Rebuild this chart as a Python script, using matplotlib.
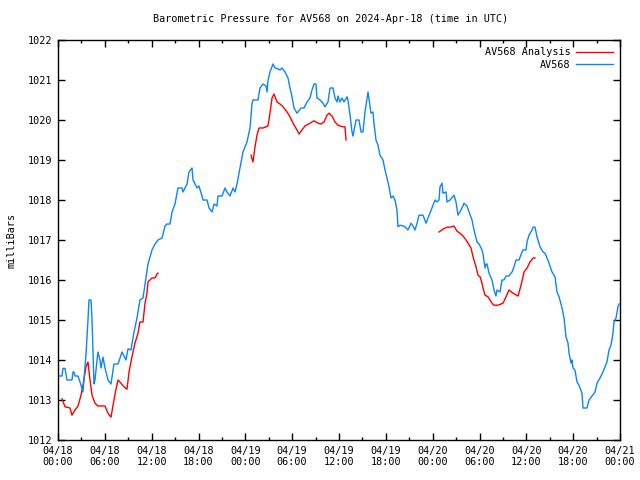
import numpy as np
import matplotlib
matplotlib.use("Agg")
import matplotlib.pyplot as plt
from matplotlib.ticker import MultipleLocator

# time in hours since 2024-04-18 00:00 UTC
av_hours = [0.0, 0.51, 0.64, 0.90, 1.15, 1.79, 1.92, 2.05, 2.18, 2.56, 2.82, 3.20, 3.59, 3.84, 3.97, 4.23,
            4.36, 4.48, 4.61, 4.74, 5.00, 5.12, 5.38, 5.51, 5.77, 6.02, 6.41, 6.79, 7.17, 7.69, 8.20, 8.71,
            8.97, 9.35, 9.74, 10.12, 10.50, 10.89, 11.27, 11.53, 12.04, 12.43, 12.81, 13.33, 13.71, 13.96,
            14.35, 14.61, 14.99, 15.37, 15.89, 16.01, 16.53, 16.78, 17.17, 17.30, 17.81, 18.06, 18.45, 18.58,
            19.09, 19.35, 19.73, 19.99, 20.37, 20.50, 21.01, 21.40, 21.65, 22.04, 22.42, 22.68, 22.93, 23.32,
            23.70, 24.21, 24.60, 24.85, 24.98, 25.62, 25.88, 26.26, 26.65, 26.78, 26.90, 27.16, 27.55, 27.80,
            28.18, 28.44, 28.70, 29.08, 29.47, 29.72, 29.98, 30.24, 30.62, 30.75, 31.13, 31.52, 31.90, 32.28,
            32.54, 32.80, 33.05, 33.18, 33.57, 33.95, 34.21, 34.59, 34.85, 35.23, 35.49, 35.75, 35.87, 36.13,
            36.38, 36.64, 37.03, 37.15, 37.41, 37.67, 37.79, 38.18, 38.56, 38.82, 39.07, 39.33, 39.72, 40.10,
            40.36, 40.48, 40.74, 41.00, 41.25, 41.64, 41.89, 42.15, 42.41, 42.66, 42.92, 43.17, 43.43, 43.56,
            43.82, 44.20, 44.46, 44.84, 45.23, 45.48, 45.74, 46.00, 46.25, 46.76, 47.15, 47.40, 47.91, 48.30,
            48.56, 48.81, 48.94, 49.20, 49.32, 49.71, 49.84, 50.22, 50.73, 50.99, 51.25, 51.76, 52.01, 52.40,
            52.66, 53.04, 53.30, 53.68, 53.94, 54.32, 54.45, 54.71, 54.84, 54.96, 55.22, 55.60, 55.86, 56.11,
            56.24, 56.63, 56.88, 57.14, 57.40, 57.78, 58.17, 58.42, 58.68, 59.06, 59.45, 59.58, 59.96, 60.09,
            60.34, 60.73, 60.86, 61.11, 61.37, 61.49, 61.75, 62.14, 62.39, 62.65, 62.91, 63.29, 63.67, 63.93,
            64.19, 64.57, 64.83, 65.08, 65.34, 65.47, 65.73, 65.85, 65.98, 66.23, 66.49, 66.75, 67.13, 67.26,
            67.77, 68.03, 68.41, 68.80, 69.05, 69.44, 69.82, 70.08, 70.33, 70.59, 70.85, 71.10, 71.23, 71.49,
            71.74, 71.87]
av_press = [1013.6, 1013.6, 1013.79, 1013.79, 1013.5, 1013.5, 1013.7, 1013.7, 1013.6, 1013.6, 1013.45, 1013.2,
            1014.15, 1015.0, 1015.5, 1015.5, 1015.0, 1014.2, 1013.4, 1013.5, 1014.0, 1014.2, 1014.0, 1013.8,
            1014.07, 1013.8, 1013.5, 1013.4, 1013.9, 1013.9, 1014.2, 1014.0, 1014.28, 1014.25, 1014.7, 1015.05,
            1015.5, 1015.55, 1016.05, 1016.4, 1016.75, 1016.9, 1017.0, 1017.05, 1017.35, 1017.4, 1017.4, 1017.7,
            1017.9, 1018.3, 1018.3, 1018.2, 1018.4, 1018.7, 1018.8, 1018.5, 1018.3, 1018.35, 1018.1, 1018.0,
            1018.0, 1017.8, 1017.7, 1017.9, 1017.85, 1018.1, 1018.1, 1018.3, 1018.2, 1018.1, 1018.3, 1018.2,
            1018.4, 1018.8, 1019.2, 1019.45, 1019.8, 1020.4, 1020.5, 1020.5, 1020.8, 1020.9, 1020.85, 1020.7,
            1020.98, 1021.2, 1021.4, 1021.3, 1021.28, 1021.25, 1021.3, 1021.2, 1021.05, 1020.8, 1020.58, 1020.3,
            1020.17, 1020.2, 1020.3, 1020.3, 1020.45, 1020.55, 1020.75, 1020.9, 1020.9, 1020.55, 1020.5, 1020.42,
            1020.33, 1020.45, 1020.8, 1020.8, 1020.55, 1020.45, 1020.6, 1020.45, 1020.55, 1020.45, 1020.58,
            1020.5, 1020.13, 1019.7, 1019.6, 1020.0, 1020.0, 1019.7, 1019.7, 1020.2, 1020.7, 1020.17, 1020.2,
            1019.92, 1019.5, 1019.37, 1019.12, 1019.0, 1018.75, 1018.55, 1018.33, 1018.05, 1018.1, 1018.0,
            1017.75, 1017.33, 1017.37, 1017.35, 1017.33, 1017.25, 1017.42, 1017.35, 1017.25, 1017.42, 1017.62,
            1017.62, 1017.42, 1017.55, 1017.8, 1018.0, 1017.95, 1018.0, 1018.33, 1018.42, 1018.17, 1018.2,
            1017.95, 1018.0, 1018.12, 1017.95, 1017.62, 1017.8, 1017.92, 1017.85, 1017.7, 1017.5, 1017.25,
            1016.95, 1016.9, 1016.75, 1016.65, 1016.3, 1016.4, 1016.4, 1016.17, 1016.0, 1015.75, 1015.6,
            1015.75, 1015.7, 1016.0, 1016.0, 1016.1, 1016.1, 1016.2, 1016.33, 1016.5, 1016.5, 1016.7, 1016.75,
            1016.75, 1016.95, 1017.12, 1017.25, 1017.32, 1017.32, 1017.08, 1017.0, 1016.83, 1016.7, 1016.67,
            1016.55, 1016.42, 1016.2, 1016.08, 1015.7, 1015.58, 1015.3, 1015.05, 1014.58, 1014.42, 1014.17,
            1013.92, 1014.0, 1013.8, 1013.75, 1013.45, 1013.37, 1013.17, 1012.8, 1012.8, 1013.0, 1013.1,
            1013.2, 1013.42, 1013.55, 1013.7, 1013.83, 1013.95, 1014.25, 1014.37, 1014.67, 1014.95, 1015.05,
            1015.33, 1015.4]

an_hours = [0.51, 0.90, 1.54, 1.79, 2.18, 2.56, 2.95, 3.20, 3.59, 3.84, 4.10, 4.36, 4.74, 5.12, 5.77, 6.02,
            6.41, 6.79, 7.05, 7.43, 7.69, 8.07, 8.46, 8.84, 9.10, 9.48, 9.86, 10.25, 10.50, 10.89, 11.15, 11.40,
            11.53, 12.04, 12.43, 12.68, 12.81, 12.9,
            24.73, 24.98, 25.24, 25.49, 25.75, 26.26, 26.65, 26.90, 27.16, 27.42, 27.67, 28.06, 28.44, 28.83,
            29.34, 29.72, 30.11, 30.62, 30.88, 31.26, 31.64, 32.28, 32.80, 33.31, 33.69, 34.08, 34.46, 34.72,
            35.10, 35.49, 35.87, 36.13, 36.51, 36.77, 36.90, 37.0,
            48.81, 49.32, 49.84, 50.22, 50.73, 51.12, 51.50, 51.89, 52.27, 52.53, 52.91, 53.17, 53.55, 53.81,
            54.07, 54.32, 54.45, 54.71, 55.09, 55.60, 55.86, 56.37, 57.01, 57.40, 57.78, 58.29, 58.94, 59.32,
            59.71, 60.09, 60.47, 60.86, 61.11]
an_press = [1013.03, 1012.83, 1012.8, 1012.62, 1012.75, 1012.85, 1013.12, 1013.37, 1013.83, 1013.95, 1013.5,
            1013.12, 1012.92, 1012.85, 1012.85, 1012.85, 1012.67, 1012.57, 1012.87, 1013.27, 1013.5, 1013.42,
            1013.33, 1013.27, 1013.7, 1014.08, 1014.42, 1014.67, 1014.95, 1014.95, 1015.42, 1015.67, 1015.95,
            1016.05, 1016.05, 1016.15, 1016.17, np.nan,
            1019.12, 1018.95, 1019.33, 1019.62, 1019.8, 1019.8, 1019.83, 1019.85, 1020.17, 1020.55, 1020.65,
            1020.45, 1020.4, 1020.33, 1020.2, 1020.08, 1019.92, 1019.75, 1019.65, 1019.75, 1019.85, 1019.92,
            1019.98, 1019.92, 1019.9, 1019.95, 1020.12, 1020.17, 1020.1, 1019.95, 1019.87, 1019.85, 1019.83,
            1019.83, 1019.5, np.nan,
            1017.2, 1017.27, 1017.32, 1017.32, 1017.35, 1017.22, 1017.17, 1017.1, 1017.0, 1016.92, 1016.8,
            1016.58, 1016.33, 1016.12, 1016.08, 1015.92, 1015.8, 1015.62, 1015.58, 1015.42, 1015.37, 1015.37,
            1015.42, 1015.58, 1015.75, 1015.67, 1015.6, 1015.87, 1016.2, 1016.3, 1016.45, 1016.55, 1016.55]

tick_hours = list(range(0, 73, 6))
tick_labels = ["04/18\n00:00", "04/18\n06:00", "04/18\n12:00", "04/18\n18:00",
               "04/19\n00:00", "04/19\n06:00", "04/19\n12:00", "04/19\n18:00",
               "04/20\n00:00", "04/20\n06:00", "04/20\n12:00", "04/20\n18:00",
               "04/21\n00:00"]

plt.rcParams['font.family'] = ['DejaVu Sans Mono']
plt.rcParams['font.size'] = 7

fig = plt.figure(figsize=(6.4, 4.8), dpi=100)
ax = fig.add_axes([58/640, 1-440/480, 562/640, 400/480])

ax.plot(an_hours, an_press, color='#ff0000', lw=1.0, label='AV568 Analysis')
ax.plot(av_hours, av_press, color='#0a84ff', lw=1.0, label='AV568')

ax.set_xlim(0, 72)
ax.set_ylim(1012, 1022)
ax.set_xticks(tick_hours)
ax.set_xticklabels(tick_labels)
ax.xaxis.set_minor_locator(MultipleLocator(3))
ax.yaxis.set_major_locator(MultipleLocator(1))
ax.yaxis.set_major_formatter(matplotlib.ticker.FormatStrFormatter('%d'))
ax.tick_params(which='both', direction='in', top=True, right=True, width=1.0, labelsize=7.3)
ax.tick_params(which='major', length=5, pad=4)
ax.tick_params(which='minor', length=2.5)
for s in ax.spines.values():
    s.set_linewidth(1.0)

ax.set_ylabel('milliBars', fontsize=7.3, labelpad=8)
fig.text(331/640, 1-19/480, 'Barometric Pressure for AV568 on 2024-Apr-18 (time in UTC)',
         ha='center', va='center', fontsize=7.3)

leg = ax.legend(loc='upper right', frameon=False, fontsize=7.3, handlelength=3.6,
                markerfirst=False, borderaxespad=0.3, labelspacing=0.25, handletextpad=0.6)
for t in leg.get_texts():
    t.set_ha('right')

fig.savefig('out.png', dpi=100)
